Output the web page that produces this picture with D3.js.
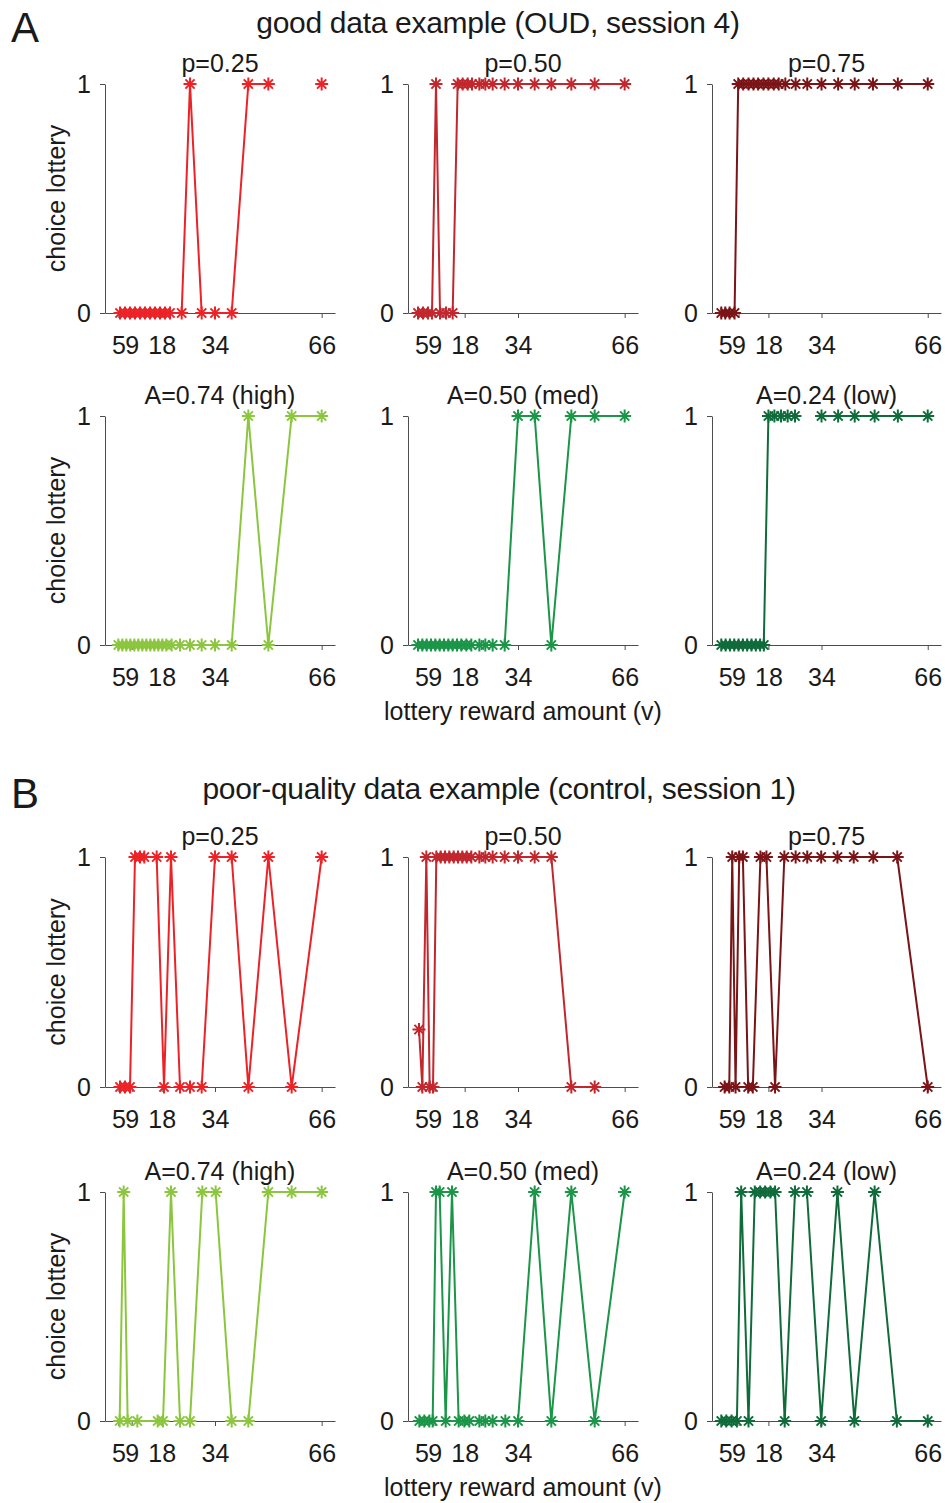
<!DOCTYPE html>
<meta charset="utf-8">
<html>
<style>
body { margin: 0; background: #fff; }
text { font-family: "Liberation Sans", Arial, sans-serif; fill: #1a1a1a; }
.axis path, .axis line { stroke: #4d4d4d; stroke-width: 1; }
.axis text { font-size: 25px; font-family: "Liberation Sans", Arial, sans-serif; fill: #1a1a1a; }
</style>
<svg width="945" height="1503"></svg>
<script src="https://d3js.org/d3.v7.min.js"></script>
<script>
// axis ticks
var xTicks = [5, 9, 18, 34, 66];
var yTicks = [0, 1];

// panel titles and colours, one per column
var probTitles = ["p=0.25", "p=0.50", "p=0.75"];
var ambTitles = ["A=0.74 (high)", "A=0.50 (med)", "A=0.24 (low)"];
var probColors = ["#ec2227", "#c1272d", "#7a1416"];
var ambColors = ["#8cc63f", "#1b9548", "#0f6b3a"];

// A: good data example (OUD, session 4)  -- lottery amount v, choice (null = missing)
var goodP25_v = [5.5, 7, 8.5, 10, 11.5, 13, 14.5, 16, 17.5, 19, 20.5, 24, 26.5, 30, 34, 39, 44, 50, 57, 66];
var goodP25_c = [0, 0, 0, 0, 0, 0, 0, 0, 0, 0, 0, 0, 1, 0, 0, 0, 1, 1, null, 1];
var goodP50_v = [4, 5.5, 7, 8.2, 9.4, 10.6, 12.4, 14.4, 15.9, 17.4, 18.9, 20.2, 22.4, 24.2, 26.4, 30, 34, 39, 44, 50, 57, 66];
var goodP50_c = [0, 0, 0, 0, 1, 0, 0, 0, 1, 1, 1, 1, 1, 1, 1, 1, 1, 1, 1, 1, 1, 1];
var goodP75_v = [3.8, 5, 6.3, 7.8, 8.9, 10.4, 12, 13.5, 14.9, 16.5, 18, 19.6, 21.1, 23.1, 26.2, 29.7, 34, 39, 44, 49.5, 57, 66];
var goodP75_c = [0, 0, 0, 0, 1, 1, 1, 1, 1, 1, 1, 1, 1, 1, 1, 1, 1, 1, 1, 1, 1, 1];
var goodHigh_v = [5, 6.2, 7.4, 8.6, 9.8, 11, 12.2, 13.4, 14.6, 15.8, 17, 18.2, 19.4, 21, 23.5, 26.5, 30, 34, 39, 44, 50, 57, 66];
var goodHigh_c = [0, 0, 0, 0, 0, 0, 0, 0, 0, 0, 0, 0, 0, 0, 0, 0, 0, 0, 0, 1, 0, 1, 1];
var goodMed_v = [4, 5.3, 6.6, 7.9, 9.2, 10.5, 11.8, 13.1, 14.4, 15.7, 17, 18.5, 20, 22.4, 24.2, 26.4, 30, 34, 39, 44, 50, 57, 66];
var goodMed_c = [0, 0, 0, 0, 0, 0, 0, 0, 0, 0, 0, 0, 0, 0, 0, 0, 0, 1, 1, 0, 1, 1, 1];
var goodLow_v = [3.8, 5.1, 6.4, 7.7, 9, 10.3, 11.6, 12.9, 14.2, 15.5, 16.6, 18, 19.8, 21.8, 23.8, 26, 30, 34, 39, 44, 50, 57, 66];
var goodLow_c = [0, 0, 0, 0, 0, 0, 0, 0, 0, 0, 0, 1, 1, 1, 1, 1, null, 1, 1, 1, 1, 1, 1];

// B: poor-quality data example (control, session 1)
var poorP25_v = [5.5, 7, 8.5, 10, 11.5, 12.8, 16.5, 18.7, 20.8, 23.5, 26.5, 30, 34, 39, 44, 50, 57, 66];
var poorP25_c = [0, 0, 0, 1, 1, 1, 1, 0, 1, 0, 0, 0, 1, 1, 0, 1, 0, 1];
var poorP50_v = [4.3, 5.3, 6.5, 7.5, 8.5, 9.5, 10.8, 12.1, 13.4, 14.7, 16, 17.3, 18.6, 20, 22.4, 24.2, 26.4, 30, 34, 39, 44, 50, 57];
var poorP50_c = [0.25, 0, 1, 0, 0, 1, 1, 1, 1, 1, 1, 1, 1, 1, 1, 1, 1, 1, 1, 1, 1, 0, 0];
var poorP75_v = [4.8, 6.2, 7.1, 8.1, 9.2, 10.3, 11.9, 13.3, 15.6, 17.4, 20, 22.8, 26.2, 29.7, 33.9, 38.8, 43.7, 49.6, 56.8, 66];
var poorP75_c = [0, 0, 1, 0, 1, 1, 0, 0, 1, 1, 0, 1, 1, 1, 1, 1, 1, 1, 1, 0];
var poorHigh_v = [5.4, 6.6, 7.8, 10.7, 16.8, 18.4, 20.8, 23.5, 26.5, 30.2, 34.2, 39, 44, 50, 57, 66];
var poorHigh_c = [0, 1, 0, 0, 0, 0, 1, 0, 0, 1, 1, 0, 0, 1, 1, 1];
var poorMed_v = [4.4, 5.9, 7.4, 8.4, 9.4, 10.5, 12.3, 14.2, 16.2, 17.9, 19.4, 22.4, 24.2, 26.4, 30.2, 34, 39, 44, 50, 57, 66];
var poorMed_c = [0, 0, 0, 0, 1, 1, 0, 1, 0, 0, 0, 0, 0, 0, 0, 0, 1, 0, 1, 0, 1];
var poorLow_v = [3.8, 5.3, 6.9, 8.5, 9.8, 12, 13.9, 15.5, 17, 18.6, 20, 22.9, 26, 29.6, 33.9, 38.8, 43.9, 50, 56.7, 66];
var poorLow_c = [0, 0, 0, 0, 1, 0, 1, 1, 1, 1, 1, 0, 1, 1, 0, 1, 0, 1, 0, 0];

var svg = d3.select("svg");

// layout
var cols = [[105, 335], [408, 638], [712, 941]];
var rows = [[84, 313], [416, 645], [857, 1087], [1192, 1421]];

var panels = [
  {r: 0, c: 0, title: probTitles[0], color: probColors[0], v: goodP25_v, ch: goodP25_c},
  {r: 0, c: 1, title: probTitles[1], color: probColors[1], v: goodP50_v, ch: goodP50_c},
  {r: 0, c: 2, title: probTitles[2], color: probColors[2], v: goodP75_v, ch: goodP75_c},
  {r: 1, c: 0, title: ambTitles[0], color: ambColors[0], v: goodHigh_v, ch: goodHigh_c},
  {r: 1, c: 1, title: ambTitles[1], color: ambColors[1], v: goodMed_v, ch: goodMed_c},
  {r: 1, c: 2, title: ambTitles[2], color: ambColors[2], v: goodLow_v, ch: goodLow_c},
  {r: 2, c: 0, title: probTitles[0], color: probColors[0], v: poorP25_v, ch: poorP25_c},
  {r: 2, c: 1, title: probTitles[1], color: probColors[1], v: poorP50_v, ch: poorP50_c},
  {r: 2, c: 2, title: probTitles[2], color: probColors[2], v: poorP75_v, ch: poorP75_c},
  {r: 3, c: 0, title: ambTitles[0], color: ambColors[0], v: poorHigh_v, ch: poorHigh_c},
  {r: 3, c: 1, title: ambTitles[1], color: ambColors[1], v: poorMed_v, ch: poorMed_c},
  {r: 3, c: 2, title: ambTitles[2], color: ambColors[2], v: poorLow_v, ch: poorLow_c}
];

// matlab style '*' marker
function asterisk(r) {
  var d = r * Math.SQRT1_2;
  return "M" + (-r) + ",0L" + r + ",0M0," + (-r) + "L0," + r +
         "M" + (-d) + "," + (-d) + "L" + d + "," + d +
         "M" + (-d) + "," + d + "L" + d + "," + (-d);
}

panels.forEach(function(p) {
  var x = d3.scaleLinear().domain([1, 70]).range(cols[p.c]);
  var y = d3.scaleLinear().domain([0, 1]).range([rows[p.r][1], rows[p.r][0]]);
  var g = svg.append("g");

  g.append("g")
      .attr("class", "axis")
      .attr("transform", "translate(0," + y(0) + ")")
      .call(d3.axisBottom(x).tickValues(xTicks).tickSize(5).tickSizeOuter(0).tickPadding(18));

  g.append("g")
      .attr("class", "axis")
      .attr("transform", "translate(" + x.range()[0] + ",0)")
      .call(d3.axisLeft(y).tickValues(yTicks).tickFormat(d3.format("d")).tickSize(5).tickSizeOuter(0).tickPadding(9));

  var pts = p.v.map(function(v, i) { return {v: v, c: p.ch[i]}; });

  var line = d3.line()
      .defined(function(d) { return d.c != null; })
      .x(function(d) { return x(d.v); })
      .y(function(d) { return y(d.c); });

  g.append("path")
      .datum(pts)
      .attr("fill", "none")
      .attr("stroke", p.color)
      .attr("stroke-width", 2)
      .attr("stroke-linejoin", "round")
      .attr("d", line);

  g.selectAll(".pt")
      .data(pts.filter(function(d) { return d.c != null; }))
      .enter().append("path")
      .attr("class", "pt")
      .attr("transform", function(d) { return "translate(" + x(d.v) + "," + y(d.c) + ")"; })
      .attr("d", asterisk(6.5))
      .attr("fill", "none")
      .attr("stroke", p.color)
      .attr("stroke-width", 2);

  // panel title
  g.append("text")
      .attr("x", (cols[p.c][0] + cols[p.c][1]) / 2)
      .attr("y", rows[p.r][0] - 12)
      .attr("text-anchor", "middle")
      .style("font-size", "25px")
      .text(p.title);

  if (p.c === 0) {
    g.append("text")
        .attr("transform", "translate(65," + ((rows[p.r][0] + rows[p.r][1]) / 2) + ") rotate(-90)")
        .attr("text-anchor", "middle")
        .style("font-size", "25px")
        .text("choice lottery");
  }
  if (p.c === 1 && (p.r === 1 || p.r === 3)) {
    g.append("text")
        .attr("x", (cols[1][0] + cols[1][1]) / 2)
        .attr("y", rows[p.r][1] + 75)
        .attr("text-anchor", "middle")
        .style("font-size", "25px")
        .text("lottery reward amount (v)");
  }
});

// section headers
svg.append("text").attr("x", 11).attr("y", 42).style("font-size", "42px").text("A");
svg.append("text").attr("x", 11).attr("y", 808).style("font-size", "42px").text("B");
svg.append("text").attr("x", 498).attr("y", 33).attr("text-anchor", "middle")
    .style("font-size", "30px").style("letter-spacing", "-0.3px")
    .text("good data example (OUD, session 4)");
svg.append("text").attr("x", 499).attr("y", 799).attr("text-anchor", "middle")
    .style("font-size", "30px").style("letter-spacing", "-0.3px")
    .text("poor-quality data example (control, session 1)");
</script>
</html>
